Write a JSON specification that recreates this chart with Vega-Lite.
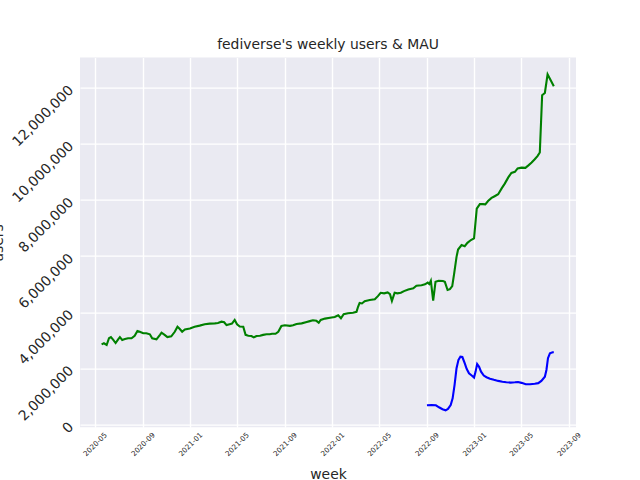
{
  "$schema": "https://vega.github.io/schema/vega-lite/v6.json",
  "width": 496,
  "height": 369.6,
  "autosize": {"type": "none"},
  "padding": {"left": 80, "top": 57.6, "right": 64, "bottom": 52.8},
  "background": "white",
  "title": {
    "text": "fediverse's weekly users & MAU",
    "font": "DejaVu Sans",
    "fontSize": 13.9,
    "fontWeight": "normal",
    "color": "#262626",
    "anchor": "middle",
    "baseline": "alphabetic",
    "offset": -5
  },
  "config": {
    "view": {"fill": "#EAEAF2", "stroke": null},
    "axis": {
      "domain": false,
      "ticks": false,
      "tickSize": 0,
      "grid": true,
      "gridColor": "white",
      "gridWidth": 1.4,
      "gridOpacity": 1,
      "labelFont": "DejaVu Sans",
      "titleFont": "DejaVu Sans",
      "labelColor": "#262626",
      "titleColor": "#262626",
      "titleFontWeight": "normal",
      "titleFontSize": 13.9
    }
  },
  "datasets": {
    "rows": [
      {"week": "2020-05-18", "series": "users", "value": 2850000},
      {"week": "2020-05-24", "series": "users", "value": 2890000},
      {"week": "2020-05-31", "series": "users", "value": 2830000},
      {"week": "2020-06-06", "series": "users", "value": 3070000},
      {"week": "2020-06-11", "series": "users", "value": 3110000},
      {"week": "2020-06-17", "series": "users", "value": 3010000},
      {"week": "2020-06-23", "series": "users", "value": 2900000},
      {"week": "2020-06-30", "series": "users", "value": 3040000},
      {"week": "2020-07-04", "series": "users", "value": 3110000},
      {"week": "2020-07-10", "series": "users", "value": 3010000},
      {"week": "2020-07-17", "series": "users", "value": 3040000},
      {"week": "2020-07-25", "series": "users", "value": 3070000},
      {"week": "2020-08-03", "series": "users", "value": 3070000},
      {"week": "2020-08-11", "series": "users", "value": 3160000},
      {"week": "2020-08-18", "series": "users", "value": 3330000},
      {"week": "2020-08-24", "series": "users", "value": 3300000},
      {"week": "2020-09-02", "series": "users", "value": 3250000},
      {"week": "2020-09-10", "series": "users", "value": 3250000},
      {"week": "2020-09-19", "series": "users", "value": 3210000},
      {"week": "2020-09-25", "series": "users", "value": 3070000},
      {"week": "2020-10-06", "series": "users", "value": 3030000},
      {"week": "2020-10-15", "series": "users", "value": 3190000},
      {"week": "2020-10-19", "series": "users", "value": 3270000},
      {"week": "2020-10-27", "series": "users", "value": 3190000},
      {"week": "2020-11-03", "series": "users", "value": 3110000},
      {"week": "2020-11-13", "series": "users", "value": 3140000},
      {"week": "2020-11-22", "series": "users", "value": 3300000},
      {"week": "2020-11-29", "series": "users", "value": 3480000},
      {"week": "2020-12-05", "series": "users", "value": 3400000},
      {"week": "2020-12-11", "series": "users", "value": 3300000},
      {"week": "2020-12-18", "series": "users", "value": 3380000},
      {"week": "2020-12-31", "series": "users", "value": 3420000},
      {"week": "2021-01-12", "series": "users", "value": 3480000},
      {"week": "2021-01-25", "series": "users", "value": 3520000},
      {"week": "2021-02-07", "series": "users", "value": 3570000},
      {"week": "2021-02-20", "series": "users", "value": 3590000},
      {"week": "2021-03-05", "series": "users", "value": 3600000},
      {"week": "2021-03-13", "series": "users", "value": 3610000},
      {"week": "2021-03-22", "series": "users", "value": 3660000},
      {"week": "2021-03-29", "series": "users", "value": 3640000},
      {"week": "2021-04-04", "series": "users", "value": 3540000},
      {"week": "2021-04-12", "series": "users", "value": 3570000},
      {"week": "2021-04-18", "series": "users", "value": 3590000},
      {"week": "2021-04-25", "series": "users", "value": 3720000},
      {"week": "2021-05-01", "series": "users", "value": 3570000},
      {"week": "2021-05-08", "series": "users", "value": 3490000},
      {"week": "2021-05-17", "series": "users", "value": 3480000},
      {"week": "2021-05-23", "series": "users", "value": 3190000},
      {"week": "2021-05-30", "series": "users", "value": 3160000},
      {"week": "2021-06-07", "series": "users", "value": 3150000},
      {"week": "2021-06-13", "series": "users", "value": 3100000},
      {"week": "2021-06-20", "series": "users", "value": 3150000},
      {"week": "2021-06-29", "series": "users", "value": 3160000},
      {"week": "2021-07-07", "series": "users", "value": 3190000},
      {"week": "2021-07-16", "series": "users", "value": 3210000},
      {"week": "2021-07-24", "series": "users", "value": 3210000},
      {"week": "2021-07-30", "series": "users", "value": 3230000},
      {"week": "2021-08-08", "series": "users", "value": 3230000},
      {"week": "2021-08-15", "series": "users", "value": 3300000},
      {"week": "2021-08-23", "series": "users", "value": 3510000},
      {"week": "2021-09-01", "series": "users", "value": 3530000},
      {"week": "2021-09-14", "series": "users", "value": 3510000},
      {"week": "2021-09-22", "series": "users", "value": 3530000},
      {"week": "2021-10-01", "series": "users", "value": 3580000},
      {"week": "2021-10-14", "series": "users", "value": 3600000},
      {"week": "2021-10-27", "series": "users", "value": 3650000},
      {"week": "2021-11-04", "series": "users", "value": 3680000},
      {"week": "2021-11-12", "series": "users", "value": 3710000},
      {"week": "2021-11-21", "series": "users", "value": 3690000},
      {"week": "2021-11-27", "series": "users", "value": 3620000},
      {"week": "2021-12-02", "series": "users", "value": 3720000},
      {"week": "2021-12-13", "series": "users", "value": 3770000},
      {"week": "2021-12-26", "series": "users", "value": 3800000},
      {"week": "2022-01-07", "series": "users", "value": 3830000},
      {"week": "2022-01-16", "series": "users", "value": 3890000},
      {"week": "2022-01-23", "series": "users", "value": 3780000},
      {"week": "2022-01-30", "series": "users", "value": 3930000},
      {"week": "2022-02-10", "series": "users", "value": 3960000},
      {"week": "2022-02-23", "series": "users", "value": 3980000},
      {"week": "2022-03-04", "series": "users", "value": 4010000},
      {"week": "2022-03-08", "series": "users", "value": 4190000},
      {"week": "2022-03-12", "series": "users", "value": 4330000},
      {"week": "2022-03-18", "series": "users", "value": 4310000},
      {"week": "2022-03-25", "series": "users", "value": 4390000},
      {"week": "2022-04-07", "series": "users", "value": 4430000},
      {"week": "2022-04-20", "series": "users", "value": 4460000},
      {"week": "2022-04-28", "series": "users", "value": 4570000},
      {"week": "2022-05-05", "series": "users", "value": 4690000},
      {"week": "2022-05-14", "series": "users", "value": 4670000},
      {"week": "2022-05-23", "series": "users", "value": 4700000},
      {"week": "2022-05-29", "series": "users", "value": 4640000},
      {"week": "2022-06-03", "series": "users", "value": 4400000},
      {"week": "2022-06-10", "series": "users", "value": 4690000},
      {"week": "2022-06-17", "series": "users", "value": 4670000},
      {"week": "2022-06-26", "series": "users", "value": 4690000},
      {"week": "2022-07-04", "series": "users", "value": 4750000},
      {"week": "2022-07-15", "series": "users", "value": 4810000},
      {"week": "2022-07-28", "series": "users", "value": 4850000},
      {"week": "2022-08-05", "series": "users", "value": 4940000},
      {"week": "2022-08-18", "series": "users", "value": 4960000},
      {"week": "2022-08-27", "series": "users", "value": 4990000},
      {"week": "2022-09-03", "series": "users", "value": 5050000},
      {"week": "2022-09-07", "series": "users", "value": 5000000},
      {"week": "2022-09-11", "series": "users", "value": 5120000},
      {"week": "2022-09-17", "series": "users", "value": 4410000},
      {"week": "2022-09-23", "series": "users", "value": 5080000},
      {"week": "2022-10-01", "series": "users", "value": 5120000},
      {"week": "2022-10-12", "series": "users", "value": 5110000},
      {"week": "2022-10-17", "series": "users", "value": 5080000},
      {"week": "2022-10-24", "series": "users", "value": 4790000},
      {"week": "2022-10-30", "series": "users", "value": 4820000},
      {"week": "2022-11-05", "series": "users", "value": 4930000},
      {"week": "2022-11-10", "series": "users", "value": 5380000},
      {"week": "2022-11-16", "series": "users", "value": 5970000},
      {"week": "2022-11-20", "series": "users", "value": 6230000},
      {"week": "2022-11-29", "series": "users", "value": 6390000},
      {"week": "2022-12-07", "series": "users", "value": 6350000},
      {"week": "2022-12-14", "series": "users", "value": 6470000},
      {"week": "2022-12-23", "series": "users", "value": 6570000},
      {"week": "2022-12-31", "series": "users", "value": 6630000},
      {"week": "2023-01-07", "series": "users", "value": 7690000},
      {"week": "2023-01-15", "series": "users", "value": 7850000},
      {"week": "2023-01-23", "series": "users", "value": 7850000},
      {"week": "2023-01-29", "series": "users", "value": 7840000},
      {"week": "2023-02-05", "series": "users", "value": 7960000},
      {"week": "2023-02-14", "series": "users", "value": 8070000},
      {"week": "2023-02-22", "series": "users", "value": 8130000},
      {"week": "2023-03-03", "series": "users", "value": 8200000},
      {"week": "2023-03-12", "series": "users", "value": 8410000},
      {"week": "2023-03-20", "series": "users", "value": 8580000},
      {"week": "2023-03-29", "series": "users", "value": 8800000},
      {"week": "2023-04-06", "series": "users", "value": 8960000},
      {"week": "2023-04-15", "series": "users", "value": 9000000},
      {"week": "2023-04-22", "series": "users", "value": 9120000},
      {"week": "2023-05-02", "series": "users", "value": 9150000},
      {"week": "2023-05-12", "series": "users", "value": 9140000},
      {"week": "2023-05-19", "series": "users", "value": 9220000},
      {"week": "2023-05-28", "series": "users", "value": 9330000},
      {"week": "2023-06-05", "series": "users", "value": 9450000},
      {"week": "2023-06-12", "series": "users", "value": 9560000},
      {"week": "2023-06-18", "series": "users", "value": 9690000},
      {"week": "2023-06-24", "series": "users", "value": 11730000},
      {"week": "2023-07-01", "series": "users", "value": 11810000},
      {"week": "2023-07-08", "series": "users", "value": 12470000},
      {"week": "2023-07-16", "series": "users", "value": 12260000},
      {"week": "2023-07-24", "series": "users", "value": 12050000},
      {"week": "2022-09-01", "series": "MAU", "value": 680000},
      {"week": "2022-09-13", "series": "MAU", "value": 690000},
      {"week": "2022-09-24", "series": "MAU", "value": 680000},
      {"week": "2022-10-02", "series": "MAU", "value": 610000},
      {"week": "2022-10-11", "series": "MAU", "value": 540000},
      {"week": "2022-10-19", "series": "MAU", "value": 500000},
      {"week": "2022-10-25", "series": "MAU", "value": 550000},
      {"week": "2022-11-01", "series": "MAU", "value": 690000},
      {"week": "2022-11-06", "series": "MAU", "value": 930000},
      {"week": "2022-11-11", "series": "MAU", "value": 1410000},
      {"week": "2022-11-16", "series": "MAU", "value": 2000000},
      {"week": "2022-11-21", "series": "MAU", "value": 2300000},
      {"week": "2022-11-26", "series": "MAU", "value": 2410000},
      {"week": "2022-12-01", "series": "MAU", "value": 2400000},
      {"week": "2022-12-07", "series": "MAU", "value": 2180000},
      {"week": "2022-12-12", "series": "MAU", "value": 1980000},
      {"week": "2022-12-18", "series": "MAU", "value": 1820000},
      {"week": "2022-12-25", "series": "MAU", "value": 1740000},
      {"week": "2022-12-31", "series": "MAU", "value": 1670000},
      {"week": "2023-01-04", "series": "MAU", "value": 1880000},
      {"week": "2023-01-08", "series": "MAU", "value": 2150000},
      {"week": "2023-01-13", "series": "MAU", "value": 2050000},
      {"week": "2023-01-18", "series": "MAU", "value": 1880000},
      {"week": "2023-01-25", "series": "MAU", "value": 1740000},
      {"week": "2023-02-01", "series": "MAU", "value": 1680000},
      {"week": "2023-02-10", "series": "MAU", "value": 1630000},
      {"week": "2023-02-20", "series": "MAU", "value": 1590000},
      {"week": "2023-03-03", "series": "MAU", "value": 1550000},
      {"week": "2023-03-14", "series": "MAU", "value": 1520000},
      {"week": "2023-03-24", "series": "MAU", "value": 1500000},
      {"week": "2023-04-04", "series": "MAU", "value": 1490000},
      {"week": "2023-04-15", "series": "MAU", "value": 1500000},
      {"week": "2023-04-23", "series": "MAU", "value": 1510000},
      {"week": "2023-05-02", "series": "MAU", "value": 1480000},
      {"week": "2023-05-13", "series": "MAU", "value": 1430000},
      {"week": "2023-05-24", "series": "MAU", "value": 1430000},
      {"week": "2023-06-05", "series": "MAU", "value": 1450000},
      {"week": "2023-06-14", "series": "MAU", "value": 1470000},
      {"week": "2023-06-22", "series": "MAU", "value": 1550000},
      {"week": "2023-07-01", "series": "MAU", "value": 1700000},
      {"week": "2023-07-05", "series": "MAU", "value": 1940000},
      {"week": "2023-07-09", "series": "MAU", "value": 2360000},
      {"week": "2023-07-14", "series": "MAU", "value": 2530000},
      {"week": "2023-07-21", "series": "MAU", "value": 2570000},
      {"week": "2023-07-24", "series": "MAU", "value": 2570000}
    ]
  },
  "data": {"name": "rows"},
  "mark": {"type": "line", "strokeWidth": 2.1, "clip": true},
  "encoding": {
    "x": {
      "field": "week",
      "type": "temporal",
      "scale": {"type": "utc", "domain": ["2020-03-23T12:00:00Z", "2023-09-19T00:00:00Z"]},
      "axis": {
        "title": "week",
        "format": "%Y-%m",
        "values": [
          {"year": 2020, "month": 5, "date": 1, "utc": true},
          {"year": 2020, "month": 9, "date": 1, "utc": true},
          {"year": 2021, "month": 1, "date": 1, "utc": true},
          {"year": 2021, "month": 5, "date": 1, "utc": true},
          {"year": 2021, "month": 9, "date": 1, "utc": true},
          {"year": 2022, "month": 1, "date": 1, "utc": true},
          {"year": 2022, "month": 5, "date": 1, "utc": true},
          {"year": 2022, "month": 9, "date": 1, "utc": true},
          {"year": 2023, "month": 1, "date": 1, "utc": true},
          {"year": 2023, "month": 5, "date": 1, "utc": true},
          {"year": 2023, "month": 9, "date": 1, "utc": true}
        ],
        "labelAngle": -45,
        "labelAlign": "center",
        "labelBaseline": "middle",
        "labelFontSize": 7.2,
        "labelPadding": 17,
        "labelOverlap": false,
        "labelFlush": false,
        "titleY": 51,
        "titleBaseline": "alphabetic"
      }
    },
    "y": {
      "field": "value",
      "type": "quantitative",
      "scale": {"domain": [-100000, 13070000], "nice": false, "zero": false},
      "axis": {
        "title": "users",
        "values": [0, 2000000, 4000000, 6000000, 8000000, 10000000, 12000000],
        "format": ",d",
        "labelAngle": -45,
        "labelAlign": "right",
        "labelBaseline": "middle",
        "labelFontSize": 13.9,
        "labelPadding": 9,
        "labelOverlap": false,
        "labelFlush": false,
        "titleAngle": -90,
        "titleX": -78,
        "titleY": 185,
        "titleAlign": "center",
        "titleBaseline": "alphabetic"
      }
    },
    "color": {
      "field": "series",
      "type": "nominal",
      "scale": {"domain": ["users", "MAU"], "range": ["#008000", "#0000ff"]},
      "legend": null
    }
  }
}
